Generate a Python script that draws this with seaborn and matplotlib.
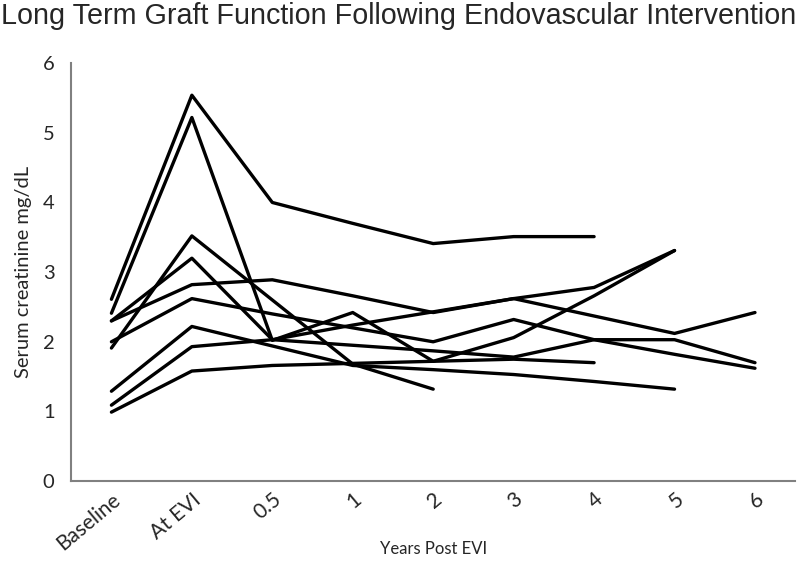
import numpy as np
import pandas as pd
import matplotlib
matplotlib.use("Agg")
import matplotlib.pyplot as plt
import seaborn as sns

# time points on the x axis
timepoints = ["Baseline", "At EVI", "0.5", "1", "2", "3", "4", "5", "6"]

# serum creatinine per patient (nan = no follow-up)
nan = np.nan
pt1 = [2.61, 5.54, 4.00, 3.70, 3.41, 3.51, 3.51, nan, nan]
pt2 = [2.41, 5.22, 2.02, 2.42, 1.72, 2.06, 2.66, 3.31, nan]
pt3 = [1.91, 3.52, 2.60, 1.68, 1.32, nan, nan, nan, nan]
pt4 = [2.30, 3.20, 2.03, 1.95, 1.87, 1.78, 2.03, 1.82, 1.62]
pt5 = [2.30, 2.82, 2.89, 2.66, 2.42, 2.62, 2.37, 2.12, 2.42]
pt6 = [1.09, 1.93, 2.03, 2.24, 2.43, 2.62, 2.78, 3.31, nan]
pt7 = [2.00, 2.62, 2.40, 2.20, 2.00, 2.32, 2.03, 2.03, 1.70]
pt8 = [0.99, 1.58, 1.66, 1.69, 1.72, 1.75, 1.70, nan, nan]
pt9 = [1.29, 2.22, 1.94, 1.66, 1.60, 1.53, 1.43, 1.32, nan]

patients = [pt1, pt2, pt3, pt4, pt5, pt6, pt7, pt8, pt9]

rows = []
for i, vals in enumerate(patients):
    for j, v in enumerate(vals):
        rows.append({"patient": i, "pos": j, "creatinine": v})
df = pd.DataFrame(rows).dropna()

sns.set_style("white")
plt.rcParams["font.family"] = ["Lato", "DejaVu Sans"]

fig = plt.figure(figsize=(8, 5.64), dpi=100)
ax = fig.add_axes([0.089, 0.147, 0.905, 0.741])

sns.lineplot(data=df, x="pos", y="creatinine", units="patient", estimator=None,
             color="black", linewidth=2.4, ax=ax, legend=False)

ax.set_xlim(-0.5, len(timepoints) - 0.5)
ax.set_ylim(0, 6)
ax.set_xticks(range(len(timepoints)))
ax.set_xticklabels(timepoints, rotation=40, ha="right", rotation_mode="anchor", fontsize=15)
ax.set_yticks(range(0, 7))
ax.tick_params(axis="y", labelsize=14.5, length=0, pad=12)
ax.tick_params(axis="x", length=0, pad=6)

ax.set_xlabel("Years Post EVI", fontsize=12)
ax.xaxis.set_label_coords(0.5, -0.143)
ax.set_ylabel("Serum creatinine mg/dL", fontsize=14.5, labelpad=8)

sns.despine(ax=ax)
for s in ["left", "bottom"]:
    ax.spines[s].set_color("#808080")
    ax.spines[s].set_linewidth(1.5)

fig.text(0.001, 0.972, "Long Term Graft Function Following Endovascular Intervention",
         fontsize=20.7, family="Liberation Sans", ha="left", va="center")

fig.savefig("out.png", dpi=100)
